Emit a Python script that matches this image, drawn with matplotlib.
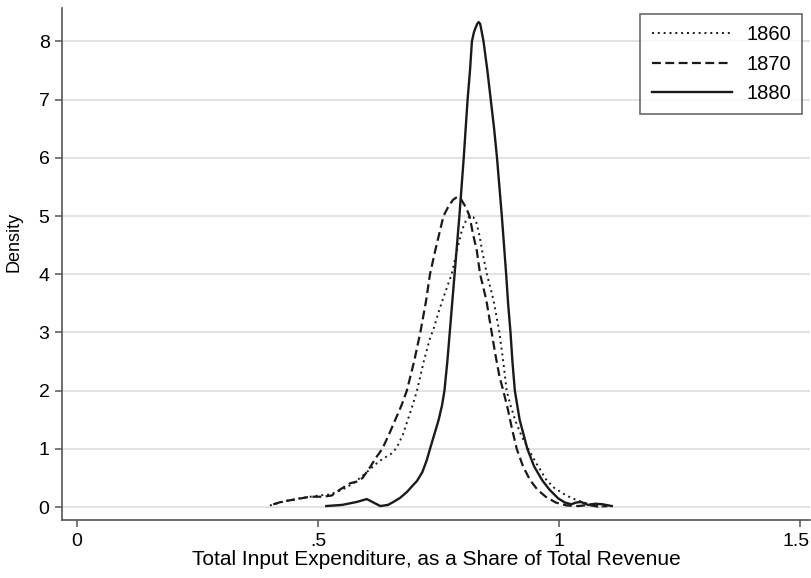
import matplotlib
matplotlib.use("Agg")
import matplotlib.pyplot as plt
import matplotlib.transforms as mtransforms

plt.rcParams["font.family"] = ["Liberation Sans", "DejaVu Sans"]

# kernel density curves
x_1860 = [0.400, 0.430, 0.460, 0.500, 0.525, 0.550, 0.575, 0.598, 0.625, 0.640,
          0.652, 0.663, 0.676, 0.686, 0.696, 0.705, 0.719, 0.732, 0.739, 0.751,
          0.762, 0.770, 0.777, 0.788, 0.798, 0.807, 0.815, 0.822, 0.829, 0.835,
          0.840, 0.850, 0.864, 0.876, 0.884, 0.891, 0.900, 0.909, 0.922, 0.936,
          0.955, 0.974, 0.990, 1.009, 1.025, 1.044, 1.070, 1.090]
y_1860 = [0.03, 0.10, 0.15, 0.20, 0.22, 0.30, 0.42, 0.58, 0.78, 0.86,
          0.92, 1.02, 1.25, 1.50, 1.75, 2.00, 2.50, 2.90, 3.05, 3.38,
          3.65, 3.84, 4.00, 4.41, 4.75, 4.93, 5.00, 4.98, 4.87, 4.65,
          4.41, 4.00, 3.55, 3.00, 2.50, 2.00, 1.72, 1.49, 1.22, 1.00,
          0.72, 0.46, 0.33, 0.23, 0.16, 0.10, 0.04, 0.01]

x_1870 = [0.407, 0.427, 0.450, 0.483, 0.510, 0.528, 0.545, 0.566, 0.580, 0.592,
          0.608, 0.620, 0.633, 0.647, 0.660, 0.673, 0.684, 0.699, 0.712, 0.724,
          0.732, 0.743, 0.760, 0.770, 0.780, 0.789, 0.797, 0.807, 0.814, 0.821,
          0.829, 0.836, 0.849, 0.860, 0.867, 0.876, 0.884, 0.893, 0.902, 0.912,
          0.925, 0.940, 0.955, 0.972, 0.993, 1.016, 1.040, 1.060, 1.080, 1.100]
y_1870 = [0.05, 0.10, 0.13, 0.18, 0.18, 0.20, 0.30, 0.41, 0.44, 0.50,
          0.69, 0.85, 1.00, 1.25, 1.50, 1.75, 2.00, 2.50, 3.00, 3.55,
          4.00, 4.41, 5.00, 5.16, 5.28, 5.33, 5.28, 5.14, 5.00, 4.70,
          4.41, 4.00, 3.55, 3.00, 2.65, 2.25, 2.00, 1.70, 1.35, 1.00,
          0.70, 0.46, 0.30, 0.18, 0.08, 0.03, 0.02, 0.04, 0.01, 0.02]

x_1880 = [0.517, 0.550, 0.580, 0.601, 0.615, 0.629, 0.645, 0.656, 0.670, 0.684,
          0.697, 0.705, 0.716, 0.725, 0.732, 0.741, 0.750, 0.757, 0.762, 0.768,
          0.773, 0.778, 0.783, 0.793, 0.802, 0.810, 0.815, 0.819, 0.823, 0.826,
          0.830, 0.833, 0.836, 0.838, 0.843, 0.851, 0.858, 0.865, 0.871, 0.881,
          0.890, 0.894, 0.899, 0.903, 0.908, 0.918, 0.934, 0.948, 0.965, 0.980,
          0.998, 1.012, 1.025, 1.035, 1.045, 1.060, 1.075, 1.090, 1.109]
y_1880 = [0.02, 0.04, 0.09, 0.14, 0.08, 0.02, 0.04, 0.09, 0.16, 0.26,
          0.38, 0.45, 0.60, 0.80, 1.00, 1.25, 1.50, 1.75, 2.00, 2.50,
          3.00, 3.50, 4.00, 5.00, 6.00, 7.00, 7.50, 8.00, 8.15, 8.22,
          8.30, 8.33, 8.30, 8.22, 8.00, 7.50, 7.00, 6.50, 6.00, 5.00,
          4.00, 3.50, 3.00, 2.50, 2.00, 1.50, 1.00, 0.70, 0.46, 0.30,
          0.15, 0.08, 0.05, 0.08, 0.09, 0.04, 0.06, 0.05, 0.02]

x_ticks = [0, 0.5, 1, 1.5]
x_tick_labels = ["0", ".5", "1", "1.5"]
y_ticks = [0, 1, 2, 3, 4, 5, 6, 7, 8]

fig = plt.figure(figsize=(8.12, 5.78), dpi=100)
ax = fig.add_axes([0.0764, 0.1003, 0.9211, 0.8857])

ink = "#1a1a1a"
ax.plot(x_1860, y_1860, color=ink, linewidth=1.4, linestyle=(0, (1, 2)), label="1860")
ax.plot(x_1870, y_1870, color=ink, linewidth=1.6, linestyle=(0, (4, 2)), label="1870")
ax.plot(x_1880, y_1880, color=ink, linewidth=1.7, label="1880")

ax.set_xlim(-0.031, 1.52)
ax.set_ylim(-0.22, 8.57)
ax.set_xticks(x_ticks)
ax.set_xticklabels(x_tick_labels)
ax.set_yticks(y_ticks)

ax.grid(axis="y", color="#dddddd", linewidth=1.2)
ax.set_axisbelow(True)
for side in ("top", "right"):
    ax.spines[side].set_visible(False)
for side in ("left", "bottom"):
    ax.spines[side].set_color("#555555")
    ax.spines[side].set_linewidth(1.2)
ax.tick_params(axis="both", length=5, width=1.1, color="#555555",
               labelsize=14, labelcolor="black", pad=4)

# last x label sits at the figure edge, nudge it inwards a little
last = ax.get_xticklabels()[-1]
last.set_transform(last.get_transform() +
                   mtransforms.ScaledTranslation(-4 / 100, 0, fig.dpi_scale_trans))

ax.set_xlabel("Total Input Expenditure, as a Share of Total Revenue", fontsize=15, labelpad=0)
ax.set_ylabel("Density", fontsize=13)
ax.yaxis.set_label_coords(-0.053, 0.543)

leg = ax.legend(loc="upper right", bbox_to_anchor=(802 / 812, 1 - 14 / 578),
                bbox_transform=fig.transFigure, fontsize=14.5,
                handlelength=4.0, handletextpad=0.7, labelspacing=0.52,
                borderpad=0.55, borderaxespad=0, frameon=True, fancybox=False)
leg.get_frame().set_edgecolor("#444444")
leg.get_frame().set_linewidth(1.2)

fig.savefig("out.png", dpi=100)
